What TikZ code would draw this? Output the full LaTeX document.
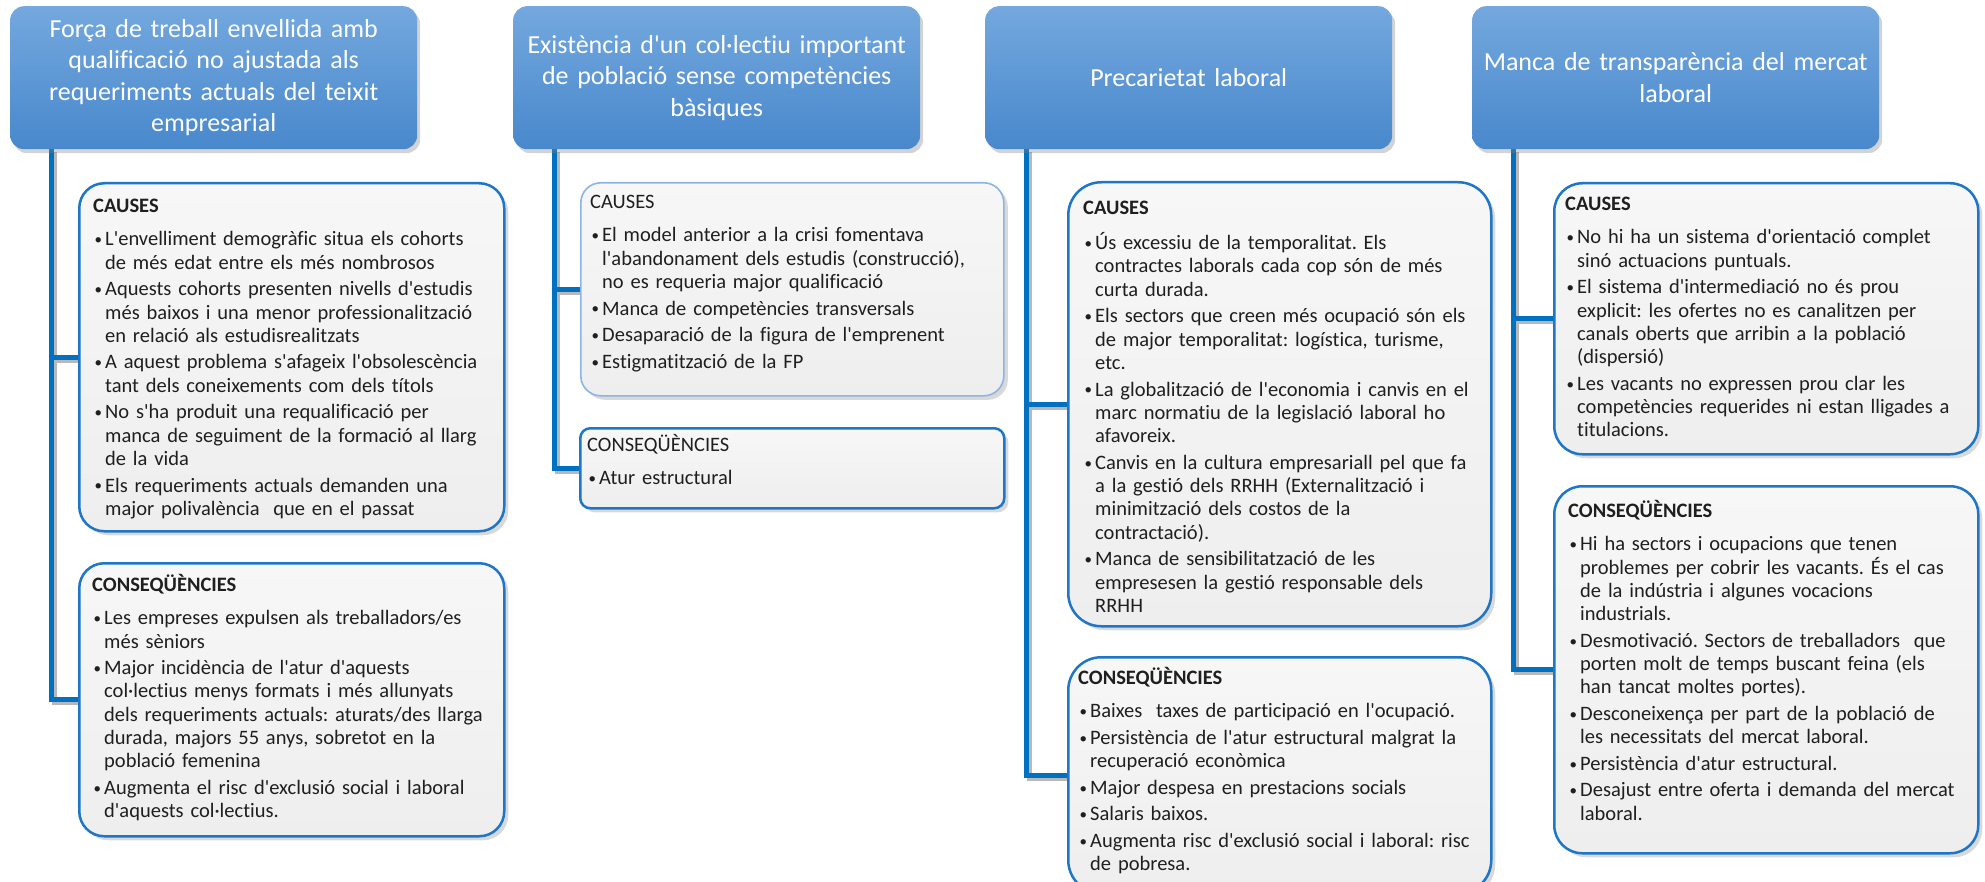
\documentclass[tikz,border=0pt]{standalone}
\usepackage{fontspec}
\setmainfont{Carlito}[Ligatures={TeXOff,CommonOff}]
\usetikzlibrary{shadows,backgrounds}
\definecolor{hdtop}{RGB}{116,168,222}
\definecolor{hdbot}{RGB}{72,136,204}
\definecolor{lnblue}{RGB}{0,112,192}
\definecolor{bxblue}{RGB}{30,118,200}
\definecolor{bxlight}{RGB}{141,180,226}
\definecolor{bxtop}{RGB}{247,247,247}
\definecolor{bxbot}{RGB}{238,238,238}
\frenchspacing
\newcommand\bul{\raisebox{1.2pt}{\fontsize{15}{15}\selectfont\textbullet}}
\newcommand\itm[1]{\par\hangindent=12pt\hangafter=1\noindent\hbox to 12pt{\hspace{1.5pt}\bul\hfil}#1\par}
\newcommand\hd[1]{\setlength{\parskip}{3.3pt}\noindent\strut{#1}\par\vspace{6.7pt}}
\tikzset{
  x=1pt, y=-1pt,
  hdr/.style={rectangle, rounded corners=14pt, top color=hdtop, bottom color=hdbot, draw=none,
    minimum width=407pt, minimum height=143pt, inner sep=4pt, anchor=north west, text=white,
    align=center, text width=395pt, font=\fontsize{26}{31.5}\selectfont,
    drop shadow={opacity=0.35, shadow xshift=3pt, shadow yshift=-4pt}},
  bx/.style={rectangle, top color=bxtop, bottom color=bxbot, draw=bxblue, line width=2.5pt,
    anchor=north west, inner sep=0pt,
    drop shadow={opacity=0.3, shadow xshift=4pt, shadow yshift=-4pt}},
  txt/.style={anchor=north west, inner sep=0pt, align=left, text width=410pt,
    font=\fontsize{20.5}{23.3}\selectfont, text=black!88},
  conn/.style={draw=lnblue, line width=5pt},
  connsh/.style={draw=black!28, line width=5pt},
}
\begin{document}
\begin{tikzpicture}
\useasboundingbox (0,0) rectangle (1985,882);

% headers
\node[hdr] (h1) at (10,6) {Força de treball envellida amb\\qualificació no ajustada als\\requeriments actuals del teixit\\empresarial};
\node[hdr] (h2) at (513,6) {Existència d'un col·lectiu important\\de població sense competències\\bàsiques};
\node[hdr] (h3) at (985,6) {Precarietat laboral};
\node[hdr] (h4) at (1472,6) {Manca de transparència del mercat\\laboral};

% boxes
\node[bx, rounded corners=25pt, minimum width=425pt, minimum height=348pt] (c1) at (78,182) {};
\node[bx, rounded corners=25pt, minimum width=425pt, minimum height=273pt] (q1) at (78,562) {};
\node[bx, rounded corners=20pt, draw=bxlight, line width=1.6pt, minimum width=423pt, minimum height=213pt] (c2) at (580,182) {};
\node[bx, rounded corners=10pt, minimum width=424pt, minimum height=80pt] (q2) at (579,427) {};
\node[bx, rounded corners=33pt, minimum width=423pt, minimum height=444pt] (c3) at (1067,181) {};
\node[bx, rounded corners=33pt, minimum width=423pt, minimum height=236pt] (q3) at (1067,656) {};
\node[bx, rounded corners=28pt, minimum width=424pt, minimum height=271pt] (c4) at (1553,182) {};
\node[bx, rounded corners=28pt, minimum width=424pt, minimum height=367pt] (q4) at (1553,485) {};

% texts
\node[txt] (t1) at ([shift={(15pt,-14pt)}]c1.north west) {\hd{\bfseries CAUSES}%
\itm{L'envelliment demogràfic situa els cohorts\newline de més edat entre els més nombrosos}
\itm{Aquests cohorts presenten nivells d'estudis\newline més baixos i una menor professionalització\newline en relació als estudisrealitzats}
\itm{A aquest problema s'afageix l'obsolescència\newline tant dels coneixements com dels títols}
\itm{No s'ha produit una requalificació per\newline manca de seguiment de la formació al llarg\newline de la vida}
\itm{Els requeriments actuals demanden una\newline major polivalència\ \ que en el passat}};

\node[txt] (u1) at ([shift={(14pt,-12pt)}]q1.north west) {\hd{\bfseries CONSEQÜÈNCIES}%
\itm{Les empreses expulsen als treballadors/es\newline més sèniors}
\itm{Major incidència de l'atur d'aquests\newline col·lectius menys formats i més allunyats\newline dels requeriments actuals: aturats/des llarga\newline durada, majors 55 anys, sobretot en la\newline població femenina}
\itm{Augmenta el risc d'exclusió social i laboral\newline d'aquests col·lectius.}};

\node[txt] (t2) at ([shift={(10pt,-10pt)}]c2.north west) {\hd{CAUSES}%
\itm{El model anterior a la crisi fomentava\newline l'abandonament dels estudis (construcció),\newline no es requeria major qualificació}
\itm{Manca de competències transversals}
\itm{Desaparació de la figura de l'emprenent}
\itm{Estigmatització de la FP}};

\node[txt] (u2) at ([shift={(8pt,-7pt)}]q2.north west) {\hd{CONSEQÜÈNCIES}%
\itm{Atur estructural}};

\node[txt] (t3) at ([shift={(16pt,-17pt)}]c3.north west) {\hd{\bfseries CAUSES}%
\itm{Ús excessiu de la temporalitat. Els\newline contractes laborals cada cop són de més\newline curta durada.}
\itm{Els sectors que creen més ocupació són els\newline de major temporalitat: logística, turisme,\newline etc.}
\itm{La globalització de l'economia i canvis en el\newline marc normatiu de la legislació laboral ho\newline afavoreix.}
\itm{Canvis en la cultura empresariall pel que fa\newline a la gestió dels RRHH (Externalització i\newline minimització dels costos de la\newline contractació).}
\itm{Manca de sensibilitatzació de les\newline empresesen la gestió responsable dels\newline RRHH}};

\node[txt] (u3) at ([shift={(11pt,-11pt)}]q3.north west) {\hd{\bfseries CONSEQÜÈNCIES}%
\itm{Baixes\ \ taxes de participació en l'ocupació.}
\itm{Persistència de l'atur estructural malgrat la\newline recuperació econòmica}
\itm{Major despesa en prestacions socials}
\itm{Salaris baixos.}
\itm{Augmenta risc d'exclusió social i laboral: risc\newline de pobresa.}};

\node[txt] (t4) at ([shift={(12pt,-12pt)}]c4.north west) {\hd{\bfseries CAUSES}%
\itm{No hi ha un sistema d'orientació complet\newline sinó actuacions puntuals.}
\itm{El sistema d'intermediació no és prou\newline explicit: les ofertes no es canalitzen per\newline canals oberts que arribin a la població\newline (dispersió)}
\itm{Les vacants no expressen prou clar les\newline competències requerides ni estan lligades a\newline titulacions.}};

\node[txt] (u4) at ([shift={(15pt,-15pt)}]q4.north west) {\hd{\bfseries CONSEQÜÈNCIES}%
\itm{Hi ha sectors i ocupacions que tenen\newline problemes per cobrir les vacants. És el cas\newline de la indústria i algunes vocacions\newline industrials.}
\itm{Desmotivació. Sectors de treballadors\ \ que\newline porten molt de temps buscant feina (els\newline han tancat moltes portes).}
\itm{Desconeixença per part de la població de\newline les necessitats del mercat laboral.}
\itm{Persistència d'atur estructural.}
\itm{Desajust entre oferta i demanda del mercat\newline laboral.}};

% connectors
\begin{scope}[on background layer]
\foreach \h/\b in {h1/c1,h1/q1,h2/c2,h2/q2,h3/c3,h3/q3,h4/c4,h4/q4}
  \draw[connsh] ([shift={(44pt,-3pt)}]\h.south west) |- ([shift={(3pt,-3pt)}]\b.west);
\foreach \h/\b in {h1/c1,h1/q1,h2/c2,h2/q2,h3/c3,h3/q3,h4/c4,h4/q4}
  \draw[conn] ([xshift=41pt]\h.south west) |- (\b.west);
\end{scope}
\end{tikzpicture}
\end{document}
